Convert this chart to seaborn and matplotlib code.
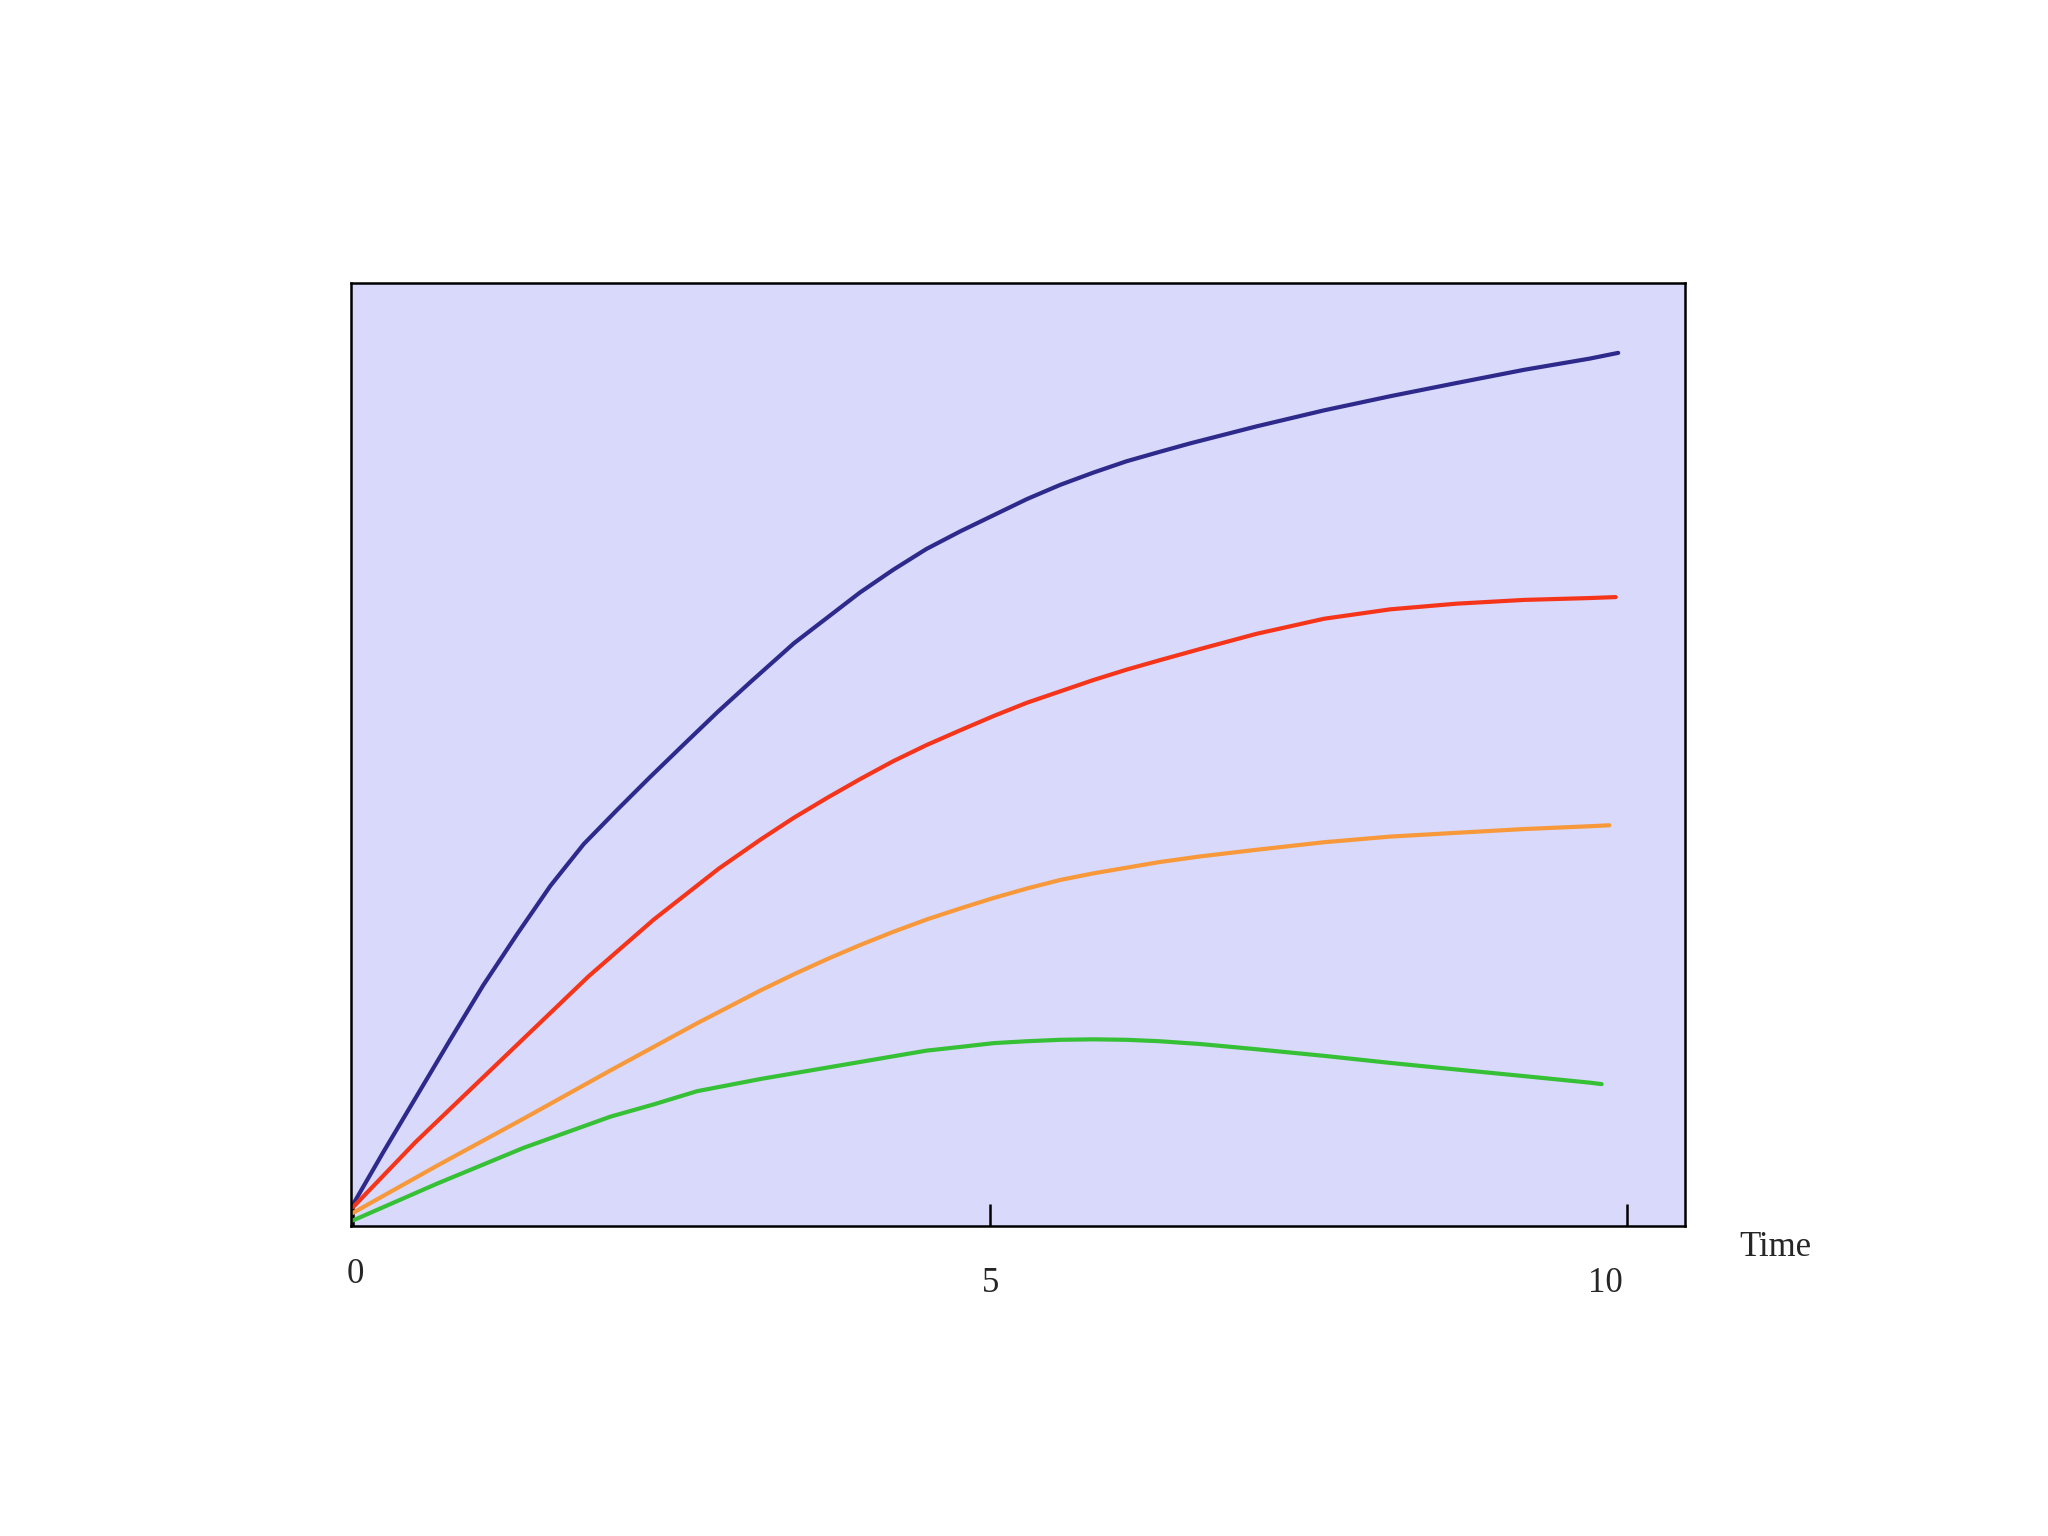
import numpy as np
import pandas as pd
import matplotlib
matplotlib.use("Agg")
import matplotlib.pyplot as plt
import matplotlib.transforms as mtransforms
import seaborn as sns

# --- data ---
blue_t = [0.0, 0.24, 0.50, 0.76, 1.02, 1.29, 1.55, 1.81, 2.07, 2.33, 2.59, 2.86, 3.12,
          3.46, 3.72, 3.98, 4.24, 4.50, 4.77, 5.03, 5.29, 5.55, 5.81, 6.07, 6.33, 6.57,
          7.09, 7.62, 8.14, 8.66, 9.19, 9.71, 9.93]
blue_v = [2.3, 7.9, 13.8, 19.7, 25.5, 31.0, 36.1, 40.5, 44.1, 47.6, 51.0, 54.5, 57.7,
          61.8, 64.5, 67.2, 69.6, 71.8, 73.7, 75.4, 77.1, 78.6, 79.9, 81.1, 82.1, 83.0,
          84.8, 86.5, 88.0, 89.4, 90.8, 92.0, 92.6]

red_t = [0.0, 0.49, 1.0, 1.51, 1.85, 2.36, 2.87, 3.20, 3.46, 3.72, 3.98, 4.24, 4.50, 4.77,
         5.03, 5.29, 5.55, 5.81, 6.07, 6.33, 6.65, 7.09, 7.62, 8.14, 8.66, 9.19, 9.71, 9.91]
red_v = [2.0, 8.9, 15.5, 22.1, 26.5, 32.5, 37.9, 41.0, 43.3, 45.4, 47.4, 49.3, 51.0, 52.6,
         54.1, 55.5, 56.7, 57.9, 59.0, 60.0, 61.2, 62.8, 64.4, 65.4, 66.0, 66.4, 66.6, 66.7]

orange_t = [0.0, 0.66, 1.34, 2.02, 2.36, 2.70, 3.20, 3.46, 3.72, 3.98, 4.24, 4.50, 4.77,
            5.03, 5.29, 5.55, 5.81, 6.07, 6.33, 6.65, 7.09, 7.62, 8.14, 8.66, 9.19, 9.71, 9.86]
orange_v = [1.4, 6.4, 11.4, 16.5, 19.0, 21.5, 25.0, 26.7, 28.3, 29.8, 31.2, 32.5, 33.7,
            34.8, 35.8, 36.7, 37.4, 38.0, 38.6, 39.2, 39.9, 40.7, 41.3, 41.7, 42.1, 42.4, 42.5]

green_t = [0.0, 0.66, 1.34, 2.02, 2.36, 2.70, 3.20, 3.46, 3.72, 3.98, 4.24, 4.50, 4.77,
           5.03, 5.29, 5.55, 5.81, 6.07, 6.33, 6.65, 7.09, 7.62, 8.14, 8.66, 9.19, 9.71, 9.80]
green_v = [0.6, 4.5, 8.3, 11.6, 12.9, 14.3, 15.6, 16.2, 16.8, 17.4, 18.0, 18.6, 19.0,
           19.4, 19.6, 19.75, 19.8, 19.75, 19.6, 19.3, 18.75, 18.05, 17.3, 16.6, 15.9, 15.2, 15.05]

series_names = ['blue', 'red', 'orange', 'green']
series_colors = ['#2e2a8c', '#f5351a', '#f7993a', '#36c036']
tick_values = [0, 5, 10]
tick_texts = ['0', '5', '10']
x_label = 'Time'

frames = []
for name, t, v in zip(series_names,
                      [blue_t, red_t, orange_t, green_t],
                      [blue_v, red_v, orange_v, green_v]):
    frames.append(pd.DataFrame({'t': t, 'v': v, 'series': name}))
df = pd.concat(frames, ignore_index=True)

sns.set_style("white")
plt.rcParams['font.family'] = ['Liberation Serif', 'DejaVu Serif']

fig = plt.figure(figsize=(10.24, 7.68), dpi=200)
ax = fig.add_axes([0.1714, 0.2018, 0.6514, 0.6139])
ax.set_facecolor('#d9d9fc')

sns.lineplot(data=df, x='t', y='v', hue='series', hue_order=series_names,
             palette=dict(zip(series_names, series_colors)),
             estimator=None, sort=False, linewidth=1.5, legend=False, ax=ax)
for line in ax.get_lines():
    line.set_solid_joinstyle('round')

ax.set_xlim(-0.016, 10.455)
ax.set_ylim(0, 100)
ax.set_xlabel('')
ax.set_ylabel('')
ax.set_yticks([])
ax.set_xticks(tick_values)
ax.set_xticklabels([])
ax.tick_params(axis='x', bottom=True, top=False, direction='in',
               length=8, width=0.9, color='black')
for s in ax.spines.values():
    s.set_color('black')
    s.set_linewidth(0.9)

# tick labels sit at slightly uneven spots in the reference
trans = mtransforms.blended_transform_factory(ax.transData, fig.transFigure)
label_x = [0.02, 5.0, 9.83]
label_y = [0.170, 0.1647, 0.1647]
for lx, ly, txt in zip(label_x, label_y, tick_texts):
    ax.text(lx, ly, txt, transform=trans, ha='center', va='center', fontsize=12.5)
ax.text(11.16, 0.188, x_label, transform=trans, ha='center', va='center', fontsize=12.5)

fig.savefig('out.png', dpi=200)
